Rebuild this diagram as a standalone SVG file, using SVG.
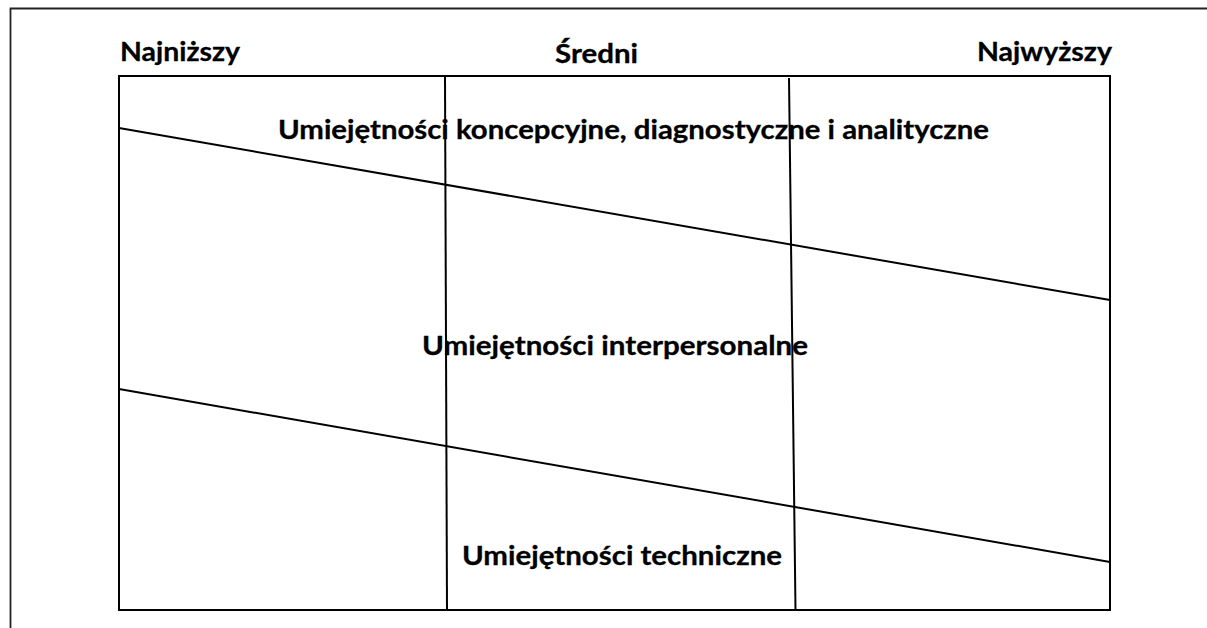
<svg xmlns="http://www.w3.org/2000/svg" width="1207" height="628" viewBox="0 0 1207 628">
<style>
.ln{stroke:#000;stroke-width:2;fill:none}
.t{font-family:Lato,"Open Sans","Liberation Sans",sans-serif;font-weight:bold;font-size:26px;fill:#000;stroke:#000;stroke-width:0.3}
</style>
<rect x="0" y="0" width="1207" height="628" fill="#fff"/>
<path d="M10.5,640 V8.5 H1220" stroke="#222" stroke-width="1.8" fill="none"/>
<g id="connectors">
<rect class="ln" x="119" y="76" width="991" height="534"/>
<line class="ln" x1="445" y1="76" x2="447" y2="610"/>
<line class="ln" x1="789" y1="78" x2="795.5" y2="610"/>
<line class="ln" x1="119" y1="128" x2="1110" y2="300"/>
<line class="ln" x1="119" y1="389" x2="1110" y2="562"/>
</g>
<g id="header-najnizszy"><text class="t" x="120" y="61" textLength="120" lengthAdjust="spacingAndGlyphs">Najniższy</text></g>
<g id="header-sredni"><text class="t" x="555" y="62.5" textLength="83" lengthAdjust="spacingAndGlyphs">Średni</text></g>
<g id="header-najwyzszy"><text class="t" x="977" y="61" textLength="135" lengthAdjust="spacingAndGlyphs">Najwyższy</text></g>
<g id="band-konceptualne"><text class="t" x="278" y="139" textLength="711" lengthAdjust="spacingAndGlyphs">Umiejętności koncepcyjne, diagnostyczne i analityczne</text></g>
<g id="band-interpersonalne"><text class="t" x="422" y="355" textLength="386" lengthAdjust="spacingAndGlyphs">Umiejętności interpersonalne</text></g>
<g id="band-techniczne"><text class="t" x="462" y="565" textLength="320" lengthAdjust="spacingAndGlyphs">Umiejętności techniczne</text></g>
</svg>
